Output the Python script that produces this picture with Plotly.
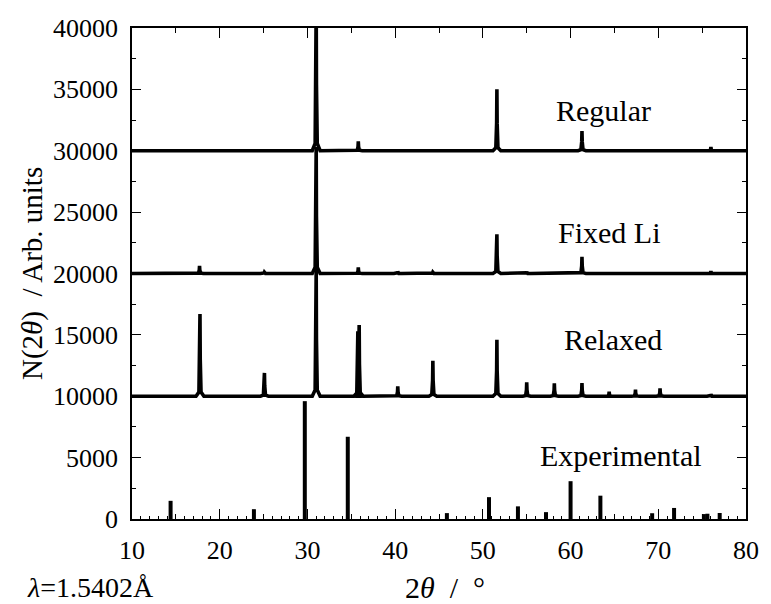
import plotly.graph_objects as go

# ---- data ----
# simulated patterns: peak positions (2theta, deg) and peak heights above their baseline
regular_pos = [31.0, 35.8, 51.6, 61.3, 76.0]
regular_hgt = [12000, 760, 5000, 1600, 300]
regular_base = 30000

fixed_pos = [17.7, 25.1, 31.0, 35.8, 40.3, 44.3, 51.6, 55.0, 61.3, 76.0]
fixed_hgt = [630, 100, 10300, 490, 150, 100, 3200, 120, 1360, 200]
fixed_base = 20000

relaxed_pos = [17.75, 25.1, 31.0, 35.75, 35.9, 40.3, 44.3, 51.6, 55.0, 58.15, 61.3, 64.4, 67.4, 70.2, 76.0]
relaxed_hgt = [6700, 1900, 10300, 5300, 5800, 800, 2900, 4600, 1140, 1060, 1080, 370, 540, 650, 150]
relaxed_base = 10000

# experimental stick pattern
exp_pos = [14.4, 23.9, 29.7, 34.6, 45.9, 50.7, 54.0, 57.2, 60.0, 63.4, 69.3, 71.8, 75.2, 75.6, 77.0]
exp_hgt = [1480, 800, 9600, 6700, 480, 1780, 1030, 560, 3080, 1900, 470, 900, 400, 430, 490]

labels = ["Regular", "Fixed Li", "Relaxed", "Experimental"]
label_x = [63.75, 64.45, 64.8, 65.8]
label_y = [33300, 23300, 14600, 5200]

x_range = [10, 80]
y_range = [0, 40000]

FONT = "Liberation Serif, Times New Roman, serif"


def pattern(pos, hgt, base):
    """Peaks drawn as narrow spikes with a slightly flared foot on a flat baseline."""
    order = sorted(range(len(pos)), key=lambda i: pos[i])
    xs, ys = [x_range[0]], [base]
    for i in order:
        p, h = pos[i], hgt[i]
        xs += [p - 0.45, p - 0.12, p - 0.03, p, p + 0.03, p + 0.12, p + 0.45]
        ys += [base, base + 0.05 * h, base + 0.45 * h, base + h, base + 0.45 * h, base + 0.05 * h, base]
    xs.append(x_range[1])
    ys.append(base)
    return xs, ys


fig = go.Figure()

for pos, hgt, base in [(regular_pos, regular_hgt, regular_base),
                       (fixed_pos, fixed_hgt, fixed_base),
                       (relaxed_pos, relaxed_hgt, relaxed_base)]:
    xs, ys = pattern(pos, hgt, base)
    fig.add_trace(go.Scatter(x=xs, y=ys, mode="lines",
                             line=dict(color="black", width=3.6),
                             hoverinfo="skip", showlegend=False))

sx, sy = [], []
for p, h in zip(exp_pos, exp_hgt):
    sx += [p, p, None]
    sy += [0, h, None]
fig.add_trace(go.Scatter(x=sx, y=sy, mode="lines",
                         line=dict(color="black", width=4),
                         hoverinfo="skip", showlegend=False))

# invisible trace on the overlay axis that carries 1-degree ticks
fig.add_trace(go.Scatter(x=x_range, y=[None, None], xaxis="x2", mode="lines",
                         hoverinfo="skip", showlegend=False))

for txt, lx, ly in zip(labels, label_x, label_y):
    fig.add_annotation(x=lx, y=ly, text=txt, showarrow=False,
                       font=dict(family=FONT, size=30, color="black"),
                       xanchor="center", yanchor="middle")

fig.add_annotation(xref="paper", yref="paper", x=-0.162, y=0.5, text="N(2<i>θ</i>)  / Arb. units",
                   textangle=-90, showarrow=False, xanchor="center", yanchor="middle",
                   font=dict(family=FONT, size=29, color="black"))
fig.add_annotation(xref="paper", yref="paper", x=0.509, y=-0.14, text="2<i>θ</i>  /  °",
                   showarrow=False, yanchor="middle", xanchor="center",
                   font=dict(family=FONT, size=30, color="black"))
fig.add_annotation(xref="paper", yref="paper", x=-0.175, y=-0.14, text="<i>λ</i>=1.5402Å",
                   showarrow=False, yanchor="middle", xanchor="left",
                   font=dict(family=FONT, size=28, color="black"))

axis_common = dict(showgrid=False, zeroline=False, linecolor="black", linewidth=1.5,
                   tickcolor="black", tickwidth=1.3, ticks="inside")

fig.update_layout(
    width=771, height=604,
    margin=dict(l=131.5, r=14, t=28, b=85),
    plot_bgcolor="white", paper_bgcolor="white",
    font=dict(family=FONT, size=26, color="black"),
    xaxis=dict(range=x_range, dtick=10, tick0=10, ticklen=10, mirror="ticks",
               minor=dict(dtick=5, ticklen=5, tickcolor="black", tickwidth=1.3, ticks="inside"),
               tickfont=dict(family=FONT, size=26, color="black"), ticklabelstandoff=7,
               ticklabeloverflow="allow", **axis_common),
    xaxis2=dict(range=x_range, overlaying="x", side="bottom", dtick=1, tick0=10, ticklen=3,
                ticks="inside", tickcolor="black", tickwidth=1.1, showticklabels=False,
                showline=False, showgrid=False, zeroline=False),
    yaxis=dict(range=y_range, dtick=5000, ticklen=9, mirror="ticks", tickformat="d",
               exponentformat="none",
               minor=dict(dtick=2500, ticklen=4.5, tickcolor="black", tickwidth=1.3, ticks="inside"),
               tickfont=dict(family=FONT, size=26, color="black"), ticklabelstandoff=7,
               **axis_common),
)

fig.write_html("out.html")
